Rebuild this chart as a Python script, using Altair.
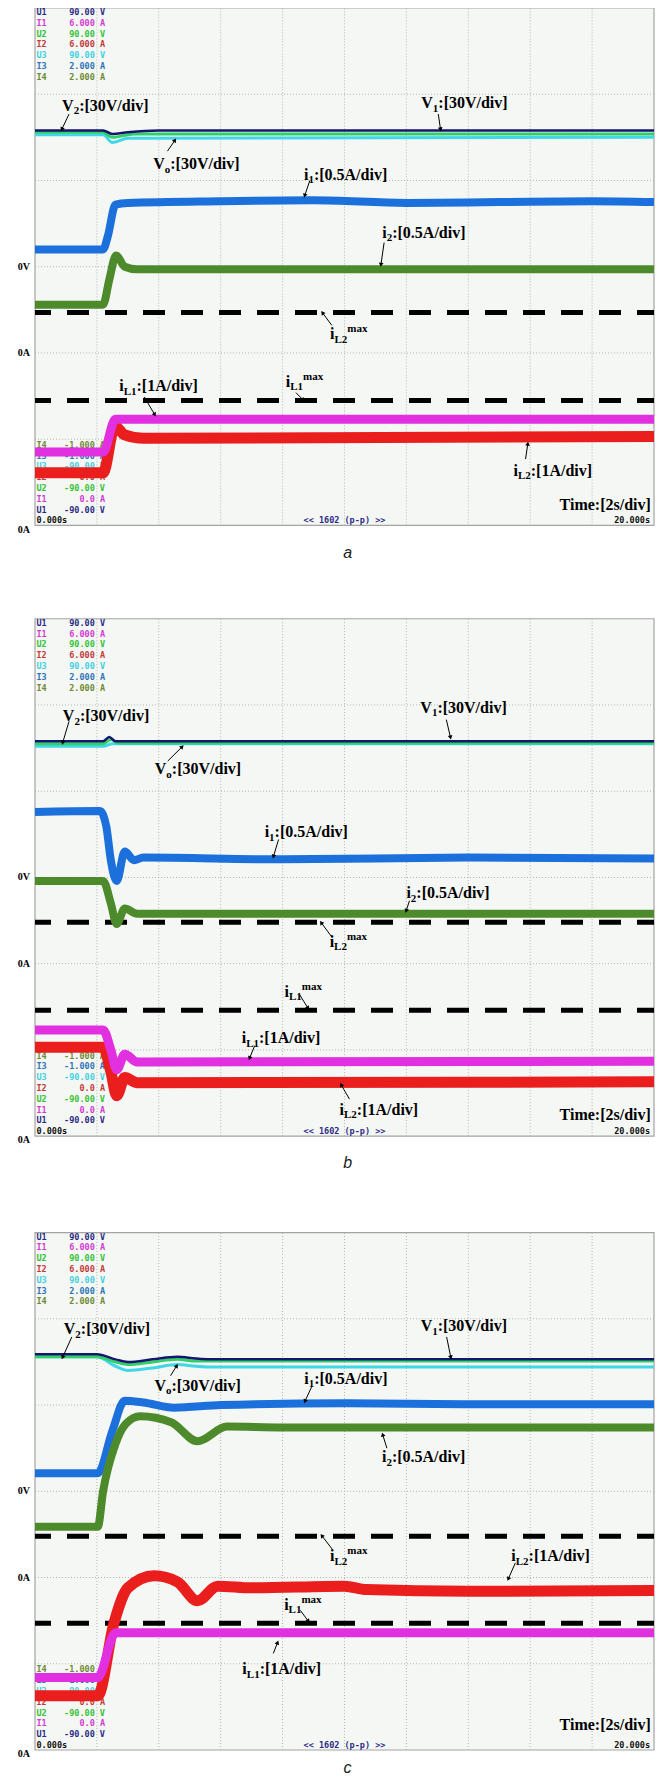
import re
import math
import altair as alt
import pandas as pd

# ---------------- screen geometry (divisions) ----------------
T_MAX = 20          # 2 s/div x 10 div
N_DIV = 6           # vertical divisions per screen
# bottom of each screen in a common vertical frame (units = divisions)
OFF = {"a": 14.2, "b": 7.118, "c": 0.0}
Y_TOP = 20.2
PLOT_W = 619
PLOT_H = 1742
PX_T = PLOT_W / T_MAX      # px per second   (text / arrow offsets only)
PX_D = PLOT_H / Y_TOP      # px per division (text / arrow offsets only)

NAVY = "#16166c"; GREEN = "#2fcf6a"; CYAN = "#41d7e6"; BLUE = "#1c70db"
OLIVE = "#4d8a2b"; MAGENTA = "#e030e0"; RED = "#eb1e1e"
LG_U1 = "#2b2b86"; LG_I1 = "#d23bd2"; LG_U2 = "#35c235"; LG_I2 = "#c23a3a"
LG_U3 = "#45cfe0"; LG_I3 = "#2f74b5"; LG_I4 = "#6f8a35"

# ---------------- scope channel readouts ----------------
top_names = ["U1", "I1", "U2", "I2", "U3", "I3", "I4"]
top_values = ["90.00 V", "6.000 A", "90.00 V", "6.000 A", "90.00 V", "2.000 A", "2.000 A"]
top_colors = [LG_U1, LG_I1, LG_U2, LG_I2, LG_U3, LG_I3, LG_I4]
bot_names = ["I4", "I3", "U3", "I2", "U2", "I1", "U1"]
bot_values = ["-1.000 A", "-1.000 A", "-90.00 V", "0.0 A", "-90.00 V", "0.0 A", "-90.00 V"]
bot_colors = [LG_I4, LG_I3, LG_U3, LG_I2, LG_U2, LG_I1, LG_U1]
scale_texts = ["0V", "0A", "0A"]
scale_levels = [3.0, 2.0, -0.05]
captions = {"a": "a", "b": "b", "c": "c"}
caption_gap_px = {"a": 28, "b": 27, "c": 18}

# ---------------- panel a ----------------
a_navy_t = [0, 2.2, 2.5, 3.0, 4.0, 20]
a_navy_y = [4.58, 4.58, 4.54, 4.56, 4.58, 4.58]
a_green_t = [0, 2.2, 2.5, 3.2, 20]
a_green_y = [4.56, 4.56, 4.50, 4.54, 4.54]
a_cyan_t = [0, 2.2, 2.5, 3.0, 20]
a_cyan_y = [4.53, 4.53, 4.44, 4.49, 4.50]
a_i1_t = [0, 2.2, 2.35, 2.6, 3.0, 6, 9, 12, 15, 18, 20]
a_i1_y = [3.20, 3.20, 3.35, 3.72, 3.74, 3.76, 3.77, 3.74, 3.75, 3.76, 3.75]
a_i2_t = [0, 2.2, 2.4, 2.62, 2.9, 3.3, 20]
a_i2_y = [2.56, 2.56, 2.85, 3.13, 3.0, 2.97, 2.97]
a_iL1_t = [0, 2.2, 2.6, 20]
a_iL1_y = [0.85, 0.85, 1.23, 1.23]
a_iL2_t = [0, 2.2, 2.58, 2.9, 3.5, 20]
a_iL2_y = [0.61, 0.61, 1.15, 1.05, 1.01, 1.03]
a_dash = [2.47, 1.45]
a_text = [
    (0.875, 4.87, "V_{2}:[30V/div]"),
    (12.48, 4.90, "V_{1}:[30V/div]"),
    (3.82, 4.19, "V_{o}:[30V/div]"),
    (8.69, 4.07, "i_{1}:[0.5A/div]"),
    (11.22, 3.40, "i_{2}:[0.5A/div]"),
    (9.53, 2.22, "i_{L2}^{max}"),
    (8.10, 1.67, "i_{L1}^{max}"),
    (2.72, 1.62, "i_{L1}:[1A/div]"),
    (15.46, 0.64, "i_{L2}:[1A/div]"),
    (16.95, 0.24, "Time:[2s/div]"),
]
a_arrows = [
    (1.10, 4.77, 0.875, 4.60),
    (13.03, 4.77, 13.10, 4.60),
    (4.28, 4.34, 4.51, 4.46),
    (8.88, 4.00, 8.72, 3.83),
    (11.28, 3.28, 11.18, 3.03),
    (9.59, 2.32, 9.30, 2.46),
    (8.43, 1.54, 8.65, 1.46),
    (3.53, 1.49, 3.86, 1.29),
    (15.85, 0.77, 15.92, 0.94),
]

# ---------------- panel b ----------------
b_navy_t = [0, 2.2, 2.4, 2.6, 20]
b_navy_y = [4.58, 4.58, 4.63, 4.58, 4.58]
b_green_t = [0, 2.2, 2.45, 2.7, 20]
b_green_y = [4.55, 4.55, 4.60, 4.56, 4.56]
b_cyan_t = [0, 2.2, 2.5, 20]
b_cyan_y = [4.52, 4.52, 4.55, 4.55]
b_i1_t = [0, 2.1, 2.3, 2.45, 2.64, 2.9, 3.2, 3.5, 8, 14, 20]
b_i1_y = [3.76, 3.77, 3.6, 3.2, 2.96, 3.3, 3.2, 3.23, 3.21, 3.23, 3.22]
b_i2_t = [0, 2.2, 2.45, 2.64, 2.9, 3.3, 20]
b_i2_y = [2.96, 2.96, 2.7, 2.46, 2.64, 2.58, 2.58]
b_iL1_t = [0, 2.2, 2.45, 2.64, 2.9, 3.3, 20]
b_iL1_y = [1.23, 1.23, 1.0, 0.77, 0.95, 0.86, 0.87]
b_iL2_t = [0, 2.2, 2.45, 2.64, 2.9, 3.3, 20]
b_iL2_y = [1.03, 1.03, 0.75, 0.47, 0.68, 0.62, 0.63]
b_dash = [2.48, 1.46]
b_text = [
    (0.90, 4.87, "V_{2}:[30V/div]"),
    (12.45, 4.97, "V_{1}:[30V/div]"),
    (3.87, 4.26, "V_{o}:[30V/div]"),
    (7.42, 3.53, "i_{1}:[0.5A/div]"),
    (12.0, 2.82, "i_{2}:[0.5A/div]"),
    (9.52, 2.26, "i_{L2}^{max}"),
    (8.06, 1.68, "i_{L1}^{max}"),
    (6.68, 1.14, "i_{L1}:[1A/div]"),
    (9.84, 0.31, "i_{L2}:[1A/div]"),
    (16.95, 0.25, "Time:[2s/div]"),
]
b_arrows = [
    (1.10, 4.81, 0.90, 4.57),
    (13.29, 4.83, 13.42, 4.63),
    (4.29, 4.35, 4.74, 4.51),
    (7.87, 3.44, 7.71, 3.25),
    (12.10, 2.73, 12.0, 2.62),
    (9.61, 2.30, 9.26, 2.47),
    (8.55, 1.64, 8.81, 1.49),
    (7.10, 1.05, 6.94, 0.91),
    (10.16, 0.43, 9.90, 0.59),
]

# ---------------- panel c ----------------
c_navy_t = [0, 2.0, 2.6, 3.0, 3.8, 4.6, 5.2, 5.8, 20]
c_navy_y = [4.59, 4.59, 4.53, 4.50, 4.53, 4.56, 4.54, 4.53, 4.53]
c_green_t = [0, 2.0, 2.6, 3.0, 3.8, 4.6, 5.2, 5.8, 20]
c_green_y = [4.56, 4.56, 4.50, 4.47, 4.50, 4.53, 4.51, 4.51, 4.51]
c_cyan_t = [0, 2.0, 2.6, 3.0, 3.8, 4.6, 5.2, 5.8, 20]
c_cyan_y = [4.56, 4.56, 4.45, 4.40, 4.43, 4.47, 4.45, 4.44, 4.44]
c_i1_t = [0, 2.03, 2.5, 2.9, 3.5, 4.5, 6, 10, 14, 20]
c_i1_y = [3.21, 3.21, 3.7, 4.05, 4.03, 3.97, 4.0, 4.02, 4.01, 4.01]
c_i2_t = [0, 2.03, 2.2, 2.6, 2.93, 3.4, 4.4, 5.25, 6.2, 8, 20]
c_i2_y = [2.59, 2.59, 3.0, 3.55, 3.78, 3.87, 3.8, 3.58, 3.75, 3.74, 3.74]
c_iL1_t = [0, 2.03, 2.6, 20]
c_iL1_y = [0.84, 0.84, 1.36, 1.36]
c_iL2_t = [0, 2.03, 2.55, 3.0, 3.85, 4.6, 5.25, 5.9, 7, 10, 10.7, 14, 20]
c_iL2_y = [0.63, 0.63, 1.47, 1.88, 2.02, 1.95, 1.73, 1.90, 1.88, 1.90, 1.86, 1.84, 1.85]
c_dash = [2.48, 1.47]
c_text = [
    (0.93, 4.88, "V_{2}:[30V/div]"),
    (12.46, 4.92, "V_{1}:[30V/div]"),
    (3.86, 4.23, "V_{o}:[30V/div]"),
    (8.70, 4.31, "i_{1}:[0.5A/div]"),
    (11.21, 3.40, "i_{2}:[0.5A/div]"),
    (9.53, 2.25, "i_{L2}^{max}"),
    (15.39, 2.25, "i_{L2}:[1A/div]"),
    (8.05, 1.69, "i_{L1}^{max}"),
    (6.70, 0.94, "i_{L1}:[1A/div]"),
    (16.95, 0.29, "Time:[2s/div]"),
]
c_arrows = [
    (1.19, 4.79, 0.90, 4.56),
    (13.30, 4.79, 13.43, 4.56),
    (4.38, 4.34, 4.57, 4.45),
    (8.95, 4.22, 8.73, 4.05),
    (11.37, 3.50, 11.24, 3.65),
    (9.60, 2.33, 9.28, 2.48),
    (15.52, 2.17, 15.30, 1.99),
    (8.57, 1.62, 8.82, 1.50),
    (7.70, 1.12, 7.83, 1.24),
]

series = {
    "cyan": {"a": (a_cyan_t, a_cyan_y), "b": (b_cyan_t, b_cyan_y), "c": (c_cyan_t, c_cyan_y)},
    "green": {"a": (a_green_t, a_green_y), "b": (b_green_t, b_green_y), "c": (c_green_t, c_green_y)},
    "navy": {"a": (a_navy_t, a_navy_y), "b": (b_navy_t, b_navy_y), "c": (c_navy_t, c_navy_y)},
    "i1": {"a": (a_i1_t, a_i1_y), "b": (b_i1_t, b_i1_y), "c": (c_i1_t, c_i1_y)},
    "i2": {"a": (a_i2_t, a_i2_y), "b": (b_i2_t, b_i2_y), "c": (c_i2_t, c_i2_y)},
    "iL2": {"a": (a_iL2_t, a_iL2_y), "b": (b_iL2_t, b_iL2_y), "c": (c_iL2_t, c_iL2_y)},
    "iL1": {"a": (a_iL1_t, a_iL1_y), "b": (b_iL1_t, b_iL1_y), "c": (c_iL1_t, c_iL1_y)},
}
styles = [("cyan", CYAN, 3), ("green", GREEN, 3), ("navy", NAVY, 2.5), ("i1", BLUE, 8),
          ("i2", OLIVE, 8), ("iL2", RED, 11), ("iL1", MAGENTA, 9)]
dashes = {"a": a_dash, "b": b_dash, "c": c_dash}
texts = {"a": a_text, "b": b_text, "c": c_text}
arrows = {"a": a_arrows, "b": b_arrows, "c": c_arrows}

# ---------------- helpers ----------------
W = {'V': 722, 'i': 278, 'L': 667, 'T': 667, 'A': 722, 'm': 833, 'a': 500, 'x': 500,
     'e': 444, 's': 389, 'd': 556, 'v': 500, 'o': 500, ':': 333, '[': 333, ']': 333,
     '/': 278, '.': 250}
FS_MAIN = 16
FS_SMALL = 11


def parse_label(s):
    parts = []
    for m in re.finditer(r"_\{([^}]*)\}|\^\{([^}]*)\}|([^_^]+)", s):
        if m.group(1) is not None:
            parts.append((m.group(1), "b"))
        elif m.group(2) is not None:
            parts.append((m.group(2), "p"))
        else:
            parts.append((m.group(3), "n"))
    return parts


xs = alt.Scale(domain=[0, T_MAX], nice=False, zero=False)
ys = alt.Scale(domain=[0, Y_TOP], nice=False, zero=False)


def X(f):
    return alt.X(f, type="quantitative", scale=xs, axis=None)


def Y(f):
    return alt.Y(f, type="quantitative", scale=ys, axis=None)


panels = ["a", "b", "c"]
layers = []

# screens (background + frame)
frame_df = pd.DataFrame([{"x0": 0, "x1": T_MAX, "y0": OFF[p], "y1": OFF[p] + N_DIV} for p in panels])
layers.append(alt.Chart(frame_df).mark_rect(fill="#f5f7f4", stroke="#a4a4a4", strokeWidth=1.2).encode(
    x=X("x0"), x2="x1:Q", y=Y("y0"), y2="y1:Q"))

# dotted graticule
vgrid = pd.DataFrame([{"t": t, "y0": OFF[p], "y1": OFF[p] + N_DIV} for p in panels for t in range(2, T_MAX, 2)])
hgrid = pd.DataFrame([{"x0": 0, "x1": T_MAX, "yg": OFF[p] + k} for p in panels for k in range(1, N_DIV)])
layers.append(alt.Chart(vgrid).mark_rule(color="#b3b7b3", strokeDash=[1, 2], strokeWidth=1).encode(
    x=X("t"), y=Y("y0"), y2="y1:Q"))
layers.append(alt.Chart(hgrid).mark_rule(color="#b3b7b3", strokeDash=[1, 2], strokeWidth=1).encode(
    x=X("x0"), x2="x1:Q", y=Y("yg")))

# scope readouts
nrows, vrows, crow = [], [], []
for p in panels:
    o = OFF[p]
    for i in range(7):
        yt = o + N_DIV - (4 + 10.8 * i) / PX_D
        nrows.append({"t": 1.5 / PX_T, "y": yt, "txt": top_names[i], "col": top_colors[i]})
        vrows.append({"t": 70 / PX_T, "y": yt, "txt": top_values[i], "col": top_colors[i]})
        yb = o + (5 + 10.8 * (7 - i)) / PX_D
        nrows.append({"t": 1.5 / PX_T, "y": yb, "txt": bot_names[i], "col": bot_colors[i]})
        vrows.append({"t": 70 / PX_T, "y": yb, "txt": bot_values[i], "col": bot_colors[i]})
    nrows.append({"t": 1.5 / PX_T, "y": o + 5 / PX_D, "txt": "0.000s", "col": "#111111"})
    vrows.append({"t": T_MAX - 4 / PX_T, "y": o + 5 / PX_D, "txt": "20.000s", "col": "#111111"})
    crow.append({"t": 10.0, "y": o + 5 / PX_D, "txt": "<< 1602 (p-p) >>"})
mono = dict(font="DejaVu Sans Mono", fontWeight="bold", fontSize=8.5, baseline="middle")
layers.append(alt.Chart(pd.DataFrame(nrows)).mark_text(align="left", **mono).encode(
    x=X("t"), y=Y("y"), text="txt:N", color=alt.Color("col:N", scale=None)))
layers.append(alt.Chart(pd.DataFrame(vrows)).mark_text(align="right", **mono).encode(
    x=X("t"), y=Y("y"), text="txt:N", color=alt.Color("col:N", scale=None)))
layers.append(alt.Chart(pd.DataFrame(crow)).mark_text(align="center", color=LG_U1, **mono).encode(
    x=X("t"), y=Y("y"), text="txt:N"))

# current-limit lines
dash_df = pd.DataFrame([{"x0": 0, "x1": T_MAX, "yg": OFF[p] + v} for p in panels for v in dashes[p]])
layers.append(alt.Chart(dash_df).mark_rule(color="black", strokeWidth=5, strokeDash=[22, 16],
                                           strokeDashOffset=6).encode(
    x=X("x0"), x2="x1:Q", y=Y("yg")))

# traces
for kind, col, sw in styles:
    frames = []
    for p in panels:
        tt, yy = series[kind][p]
        frames.append(pd.DataFrame({"panel": p, "t": tt, "yg": [OFF[p] + v for v in yy]}))
    layers.append(alt.Chart(pd.concat(frames, ignore_index=True)).mark_line(
        color=col, strokeWidth=sw, interpolate="monotone").encode(
        x=X("t"), y=Y("yg"), detail="panel:N"))

# arrows
arows = []
for p in panels:
    for t1, y1, t2, y2 in arrows[p]:
        dx = (t2 - t1) * PX_T
        dy = -(y2 - y1) * PX_D
        ang = math.degrees(math.atan2(dx, -dy)) % 360
        arows.append({"t1": t1, "y1": OFF[p] + y1, "t2": t2, "y2": OFF[p] + y2, "ang": ang})
adf = pd.DataFrame(arows)
layers.append(alt.Chart(adf).mark_rule(color="black", strokeWidth=1).encode(
    x=X("t1"), y=Y("y1"), x2="t2:Q", y2="y2:Q"))
layers.append(alt.Chart(adf).mark_point(shape="triangle", filled=True, color="black",
                                        size=22, opacity=1).encode(
    x=X("t2"), y=Y("y2"), angle=alt.Angle("ang:Q", scale=None)))

# annotation labels (with sub/superscripts)
lrows = []
for p in panels:
    for t, ym, s in texts[p]:
        xpx = 0.0
        for txt, kind in parse_label(s):
            fs = FS_MAIN if kind == "n" else FS_SMALL
            shift = {"n": 0.0, "b": 3.5, "p": -7.0}[kind]
            lrows.append({"t": t + xpx / PX_T, "y": OFF[p] + ym - (5.3 + shift) / PX_D,
                          "txt": txt, "fs": fs})
            xpx += sum(W.get(ch, 500) for ch in txt) / 1000.0 * fs
layers.append(alt.Chart(pd.DataFrame(lrows)).mark_text(
    align="left", baseline="alphabetic", font="Liberation Serif", fontWeight="bold",
    color="black").encode(x=X("t"), y=Y("y"), text="txt:N", size=alt.Size("fs:Q", scale=None)))

# left-hand level markers
srows = [{"y": OFF[p] + lv, "txt": tx} for p in panels for lv, tx in zip(scale_levels, scale_texts)]
layers.append(alt.Chart(pd.DataFrame(srows)).mark_text(
    align="right", baseline="middle", font="Liberation Serif", fontWeight="bold",
    fontSize=10, color="black").encode(x=alt.value(-5), y=Y("y"), text="txt:N"))

# sub-figure captions
cap_df = pd.DataFrame([{"t": 10.1, "y": OFF[p] - caption_gap_px[p] / PX_D, "txt": captions[p]}
                       for p in panels])
layers.append(alt.Chart(cap_df).mark_text(
    align="center", baseline="middle", font="Liberation Sans", fontStyle="italic",
    fontSize=16, color="#222222").encode(x=X("t"), y=Y("y"), text="txt:N"))

chart = alt.layer(*layers).properties(
    width=PLOT_W, height=PLOT_H,
    autosize=alt.AutoSizeParams(type="none"),
    padding={"left": 27, "top": 0, "right": 6, "bottom": 29},
).configure_view(stroke=None)

chart.save("out.html", embed_options={"renderer": "svg", "actions": False})
